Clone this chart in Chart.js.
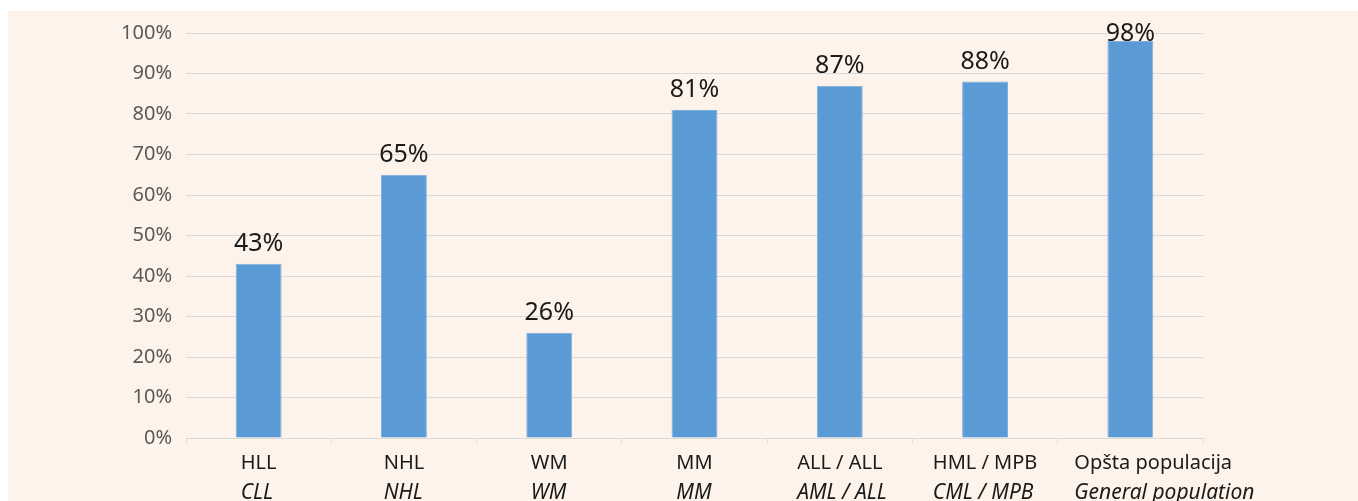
<!DOCTYPE html>
<html>
<head>
<meta charset="utf-8">
<script src="https://cdn.jsdelivr.net/npm/chart.js@4"></script>
<style>
  html, body { margin: 0; padding: 0; background: #fff; }
  #wrap { position: absolute; left: 8px; top: 11px; width: 1350px; height: 490px; background: #fdf3ea; }
</style>
</head>
<body>
<div id="wrap"><canvas id="c"></canvas></div>
<script>
// kategorije: prvi red (srpski), drugi red (engleski, kurziv)
const labelsSr = ['HLL', 'NHL', 'WM', 'MM', 'ALL / ALL', 'HML / MPB', 'Opšta populacija'];
const labelsEn = ['CLL', 'NHL', 'WM', 'MM', 'AML / ALL', 'CML / MPB', 'General population'];
const values = [43, 65, 26, 81, 87, 88, 98];
const yTicks = [0, 10, 20, 30, 40, 50, 60, 70, 80, 90, 100];

const FONT = "'Noto Sans', sans-serif";

// vrednosti iznad stubova + dvoredni natpisi na x osi (poravnati levo, kao u originalu)
const extras = {
  id: 'extras',
  afterDatasetsDraw(chart) {
    const ctx = chart.ctx;
    const meta = chart.getDatasetMeta(0);
    const area = chart.chartArea;
    ctx.save();
    ctx.fillStyle = '#1a1a1a';
    ctx.font = '25px ' + FONT;
    ctx.textAlign = 'center';
    ctx.textBaseline = 'alphabetic';
    meta.data.forEach((bar, i) => {
      const y = Math.max(bar.y - 13, area.top + 8);
      ctx.fillText(values[i] + '%', bar.x, y);
    });
    const xs = chart.scales.x;
    const y1 = area.bottom + 25, y2 = area.bottom + 55;
    ctx.textAlign = 'left';
    ctx.textBaseline = 'middle';
    labelsSr.forEach((t, i) => {
      const cx = xs.getPixelForValue(i);
      ctx.font = '20px ' + FONT;
      const w = ctx.measureText(t).width;
      const x0 = cx - Math.min(w / 2, 56);
      ctx.fillText(t, x0, y1);
      ctx.font = 'italic 21px ' + FONT;
      ctx.fillText(labelsEn[i], x0, y2);
    });
    ctx.restore();
  }
};

new Chart(document.getElementById('c'), {
  type: 'bar',
  data: {
    labels: labelsSr,
    datasets: [{
      data: values,
      backgroundColor: '#5b9bd5',
      borderColor: '#7fb0de',
      borderWidth: 1,
      categoryPercentage: 1,
      barPercentage: 0.316,
    }]
  },
  options: {
    responsive: true, maintainAspectRatio: false, animation: false,
    layout: { padding: { top: 22, right: 155, bottom: 0, left: 0 } },
    plugins: { legend: { display: false }, tooltip: { enabled: false } },
    scales: {
      x: {
        grid: { offset: true, drawOnChartArea: false, color: '#d9d9d9', tickLength: 5 },
        border: { color: '#d9d9d9' },
        ticks: { display: false },
        afterFit: (s) => { s.height = 63; },
      },
      y: {
        min: 0, max: 100,
        afterBuildTicks: (s) => { s.ticks = yTicks.map((v) => ({ value: v })); },
        grid: { color: '#d9d9d9', drawTicks: false },
        border: { display: false },
        ticks: { color: '#595959', font: { family: FONT, size: 20, lineHeight: 0.6 }, padding: 14, callback: (v) => v + '%' },
        afterFit: (s) => { s.width = 178; },
      }
    }
  },
  plugins: [extras]
});
</script>
</body>
</html>
